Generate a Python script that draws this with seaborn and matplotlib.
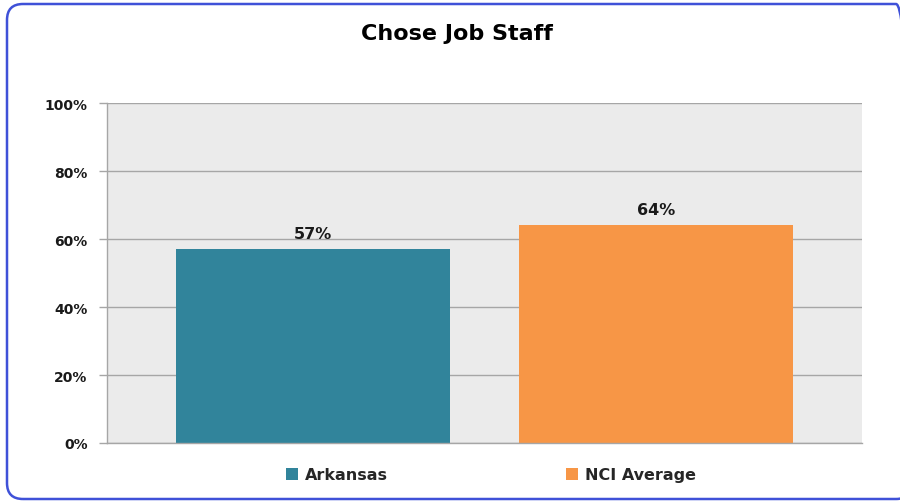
import matplotlib
matplotlib.use("Agg")
import matplotlib.pyplot as plt
import seaborn as sns
import pandas as pd
from matplotlib.patches import FancyBboxPatch, Patch
from matplotlib.transforms import IdentityTransform
from matplotlib.ticker import FuncFormatter

categories = ["Arkansas", "NCI Average"]
values = [57, 64]
colors = ["#31849B", "#F79646"]
yticks = [0, 20, 40, 60, 80, 100]
title = "Chose Job Staff"

sns.set_style("white")
plt.rcParams["font.family"] = ["DejaVu Sans"]

df = pd.DataFrame({"cat": categories, "val": values})

fig = plt.figure(figsize=(9, 5.02), dpi=100)
ax = fig.add_axes([107/900, 58/502, 755/900, 340/502])

sns.barplot(data=df, x="cat", y="val", hue="cat", palette=colors,
            width=0.8, ax=ax, legend=False, saturation=1,
            edgecolor="none", linewidth=0)

ax.set_facecolor("#EBEBEB")
ax.set_xlim(-0.6, 1.6)
ax.set_ylim(0, 100)
ax.set_yticks(yticks)
ax.yaxis.set_major_formatter(FuncFormatter(lambda v, p: f"{int(v)}%"))
ax.grid(axis="y", color="#A6A6A6", linewidth=1)
ax.set_axisbelow(True)
ax.set_xticks([])
ax.set_xlabel("")
ax.set_ylabel("")
for s in ["top", "right"]:
    ax.spines[s].set_visible(False)
for s in ["left", "bottom"]:
    ax.spines[s].set_color("#A6A6A6")
    ax.spines[s].set_linewidth(1)
ax.tick_params(axis="y", left=True, direction="out", length=6, width=1,
               color="#A6A6A6", pad=8, labelsize=10, labelcolor="#1a1a1a")
for lab in ax.get_yticklabels():
    lab.set_fontweight("bold")

for cont in ax.containers:
    ax.bar_label(cont, labels=[f"{v:.0f}%" for v in cont.datavalues],
                 padding=6, fontsize=11.5, fontweight="bold", color="#1a1a1a")

fig.text(457/900, 1 - 34/502, title, ha="center", va="center",
         fontsize=16, fontweight="bold", color="#000000")

handles = [Patch(facecolor=c, edgecolor="none", label=l) for c, l in zip(colors, categories)]
fig.legend(handles=handles, loc="center", bbox_to_anchor=(491/900, 1 - 476/502),
           ncol=2, frameon=False, handlelength=0.75, handleheight=0.75,
           handletextpad=0.45, columnspacing=11.1,
           prop={"weight": "bold", "size": 11.5})

border = FancyBboxPatch((7, 2), 905, 495, boxstyle="round,pad=0,rounding_size=16",
                        transform=IdentityTransform(), fill=False,
                        edgecolor="#3F51D8", linewidth=1.8)
fig.add_artist(border)
border.set_transform(IdentityTransform())

fig.savefig("out.png", dpi=100)
